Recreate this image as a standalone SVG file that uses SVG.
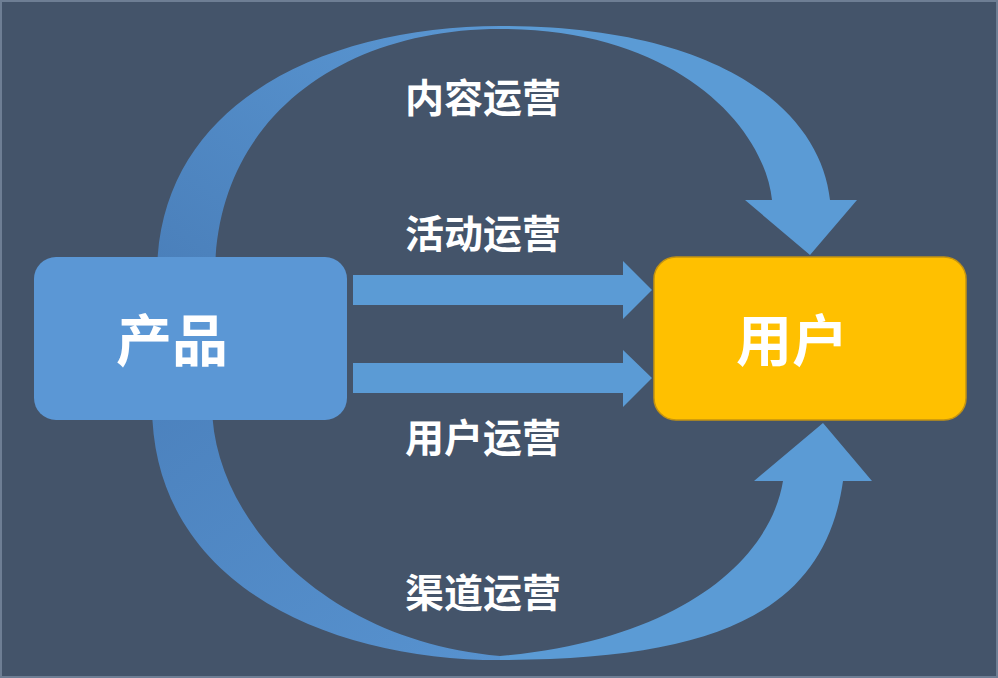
<svg xmlns="http://www.w3.org/2000/svg" width="998" height="678" viewBox="0 0 998 678">
  <defs>
    <style>
      .lbl { font-family: "Noto Sans CJK SC", "Noto Sans", sans-serif; font-weight: 700; fill: #FFFFFF; text-anchor: middle; }
      .op { font-size: 39px; }
      .node-text { font-size: 56px; }
      .arrow { fill: #5B9BD5; }
    </style>
    <linearGradient id="gTL" x1="0" y1="1" x2="1" y2="0">
      <stop offset="0" stop-color="#4A7FBA"/>
      <stop offset="1" stop-color="#5A97D3"/>
    </linearGradient>
    <linearGradient id="gBL" x1="0" y1="0" x2="1" y2="1">
      <stop offset="0" stop-color="#4C82BE"/>
      <stop offset="1" stop-color="#5792CF"/>
    </linearGradient>
  </defs>

  <rect x="0" y="0" width="998" height="678" fill="#44546A"/>
  <rect x="1" y="1" width="996" height="676" fill="none" stroke="#6E7E94" stroke-width="2"/>

  <g id="connectors">
    <path d="M157,275 C157,100 330,26 500,26 L500,29 C340,29 215,120 215,275 Z" fill="url(#gTL)"/>
    <path class="arrow" d="M500,26 C720,26 820,110 830,200 L857,200 L810,255 L745,200 L772,200 C765,130 680,29 500,29 Z"/>
    <path d="M152,405 C152,585 330,660 500,660 L500,656 C320,640 212,515 212,405 Z" fill="url(#gBL)"/>
    <path class="arrow" d="M500,660 C720,660 825,610 843,481 L872,481 L823,423 L754,481 L783,481 C770,560 680,640 500,656 Z"/>
    <polygon class="arrow" points="353,275 623,275 623,261 652,290 623,319 623,305 353,305"/>
    <polygon class="arrow" points="353,363 623,363 623,350 652,378 623,407 623,393 353,393"/>
  </g>

  <g id="node-product">
    <rect x="34" y="257" width="313" height="163" rx="22" ry="22" fill="#5B97D5"/>
    <text class="lbl node-text" x="172" y="361">产品</text>
  </g>

  <g id="node-user">
    <rect x="654" y="257" width="312" height="163" rx="22" ry="22" fill="#FFC000" stroke="#C39312" stroke-width="1.5"/>
    <text class="lbl node-text" x="792" y="361">用户</text>
  </g>

  <g id="labels">
    <text class="lbl op" x="483" y="112">内容运营</text>
    <text class="lbl op" x="483" y="248">活动运营</text>
    <text class="lbl op" x="483" y="452">用户运营</text>
    <text class="lbl op" x="483" y="607">渠道运营</text>
  </g>
</svg>
